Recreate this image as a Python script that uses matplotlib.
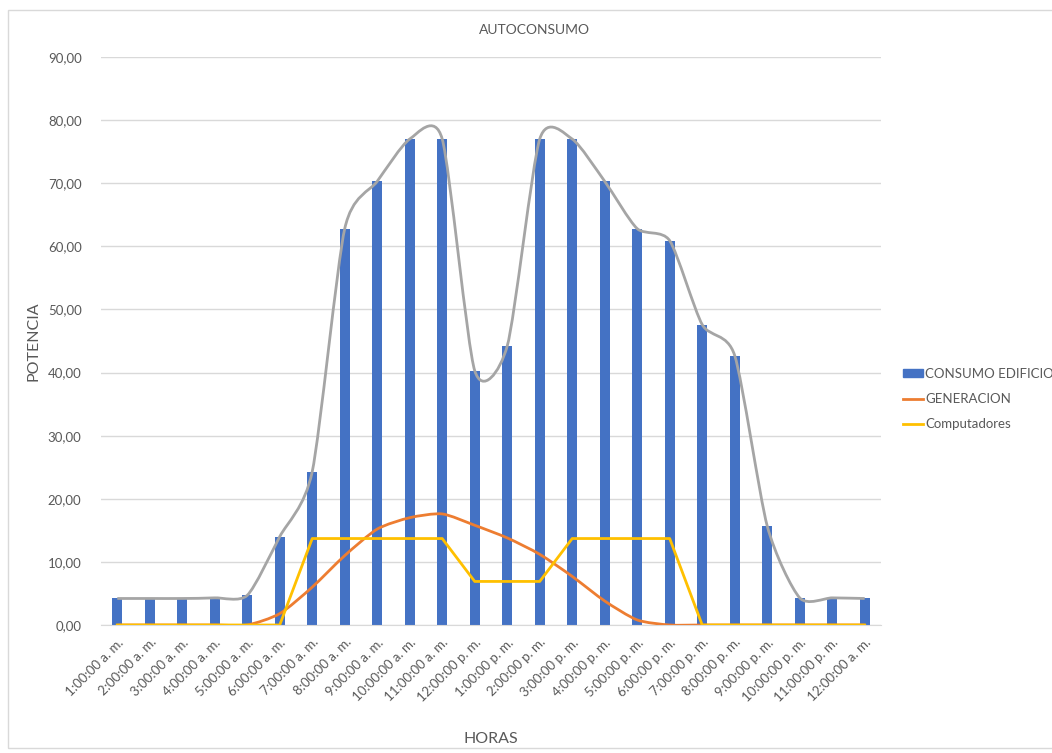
import matplotlib
matplotlib.use('Agg')
import matplotlib.pyplot as plt
import matplotlib.patches as mpatches
from matplotlib.path import Path
from matplotlib.lines import Line2D
import numpy as np

plt.rcParams['font.family'] = ['Lato', 'DejaVu Sans']

horas = ['1:00:00 a. m.', '2:00:00 a. m.', '3:00:00 a. m.', '4:00:00 a. m.',
         '5:00:00 a. m.', '6:00:00 a. m.', '7:00:00 a. m.', '8:00:00 a. m.',
         '9:00:00 a. m.', '10:00:00 a. m.', '11:00:00 a. m.', '12:00:00 p. m.',
         '1:00:00 p. m.', '2:00:00 p. m.', '3:00:00 p. m.', '4:00:00 p. m.',
         '5:00:00 p. m.', '6:00:00 p. m.', '7:00:00 p. m.', '8:00:00 p. m.',
         '9:00:00 p. m.', '10:00:00 p. m.', '11:00:00 p. m.', '12:00:00 a. m.']
consumo = [4.2, 4.2, 4.2, 4.3, 4.7, 14.0, 24.3, 62.8, 70.3, 77.0, 77.0, 40.3,
           44.2, 77.0, 77.0, 70.3, 62.8, 60.9, 47.6, 42.7, 15.7, 4.3, 4.3, 4.2]
generacion = [0, 0, 0, 0, 0, 1.8, 6.0, 11.0, 15.2, 17.0, 17.6, 15.8,
              13.8, 11.2, 7.7, 3.8, 0.8, 0, 0, 0, 0, 0, 0, 0]
computadores = [0, 0, 0, 0, 0, 0, 13.7, 13.7, 13.7, 13.7, 13.7, 6.9,
                6.9, 6.9, 13.7, 13.7, 13.7, 13.7, 0, 0, 0, 0, 0, 0]

blue = '#4472C4'
orange = '#ED7D31'
gray = '#A5A5A5'
yellow = '#FFC000'
txt = '#595959'


def smooth_path(xs, ys, k=8.5):
    # Bezier curve through the points, like Excel's smoothed line
    pts = np.column_stack([xs, ys]).astype(float)
    n = len(pts)
    verts = [pts[0]]
    codes = [Path.MOVETO]
    for i in range(n - 1):
        p0 = pts[max(i - 1, 0)]
        p1 = pts[i]
        p2 = pts[i + 1]
        p3 = pts[min(i + 2, n - 1)]
        c1 = p1 + (p2 - p0) / k
        c2 = p2 - (p3 - p1) / k
        verts += [c1, c2, p2]
        codes += [Path.CURVE4] * 3
    return Path(verts, codes)


fig = plt.figure(figsize=(10.52, 7.53), dpi=100)
ax = fig.add_axes([0.096, 0.17, 0.7414, 0.7543])

x = np.arange(len(horas))
ax.bar(x, consumo, width=0.3, color=blue, zorder=2)
ax.add_patch(mpatches.PathPatch(smooth_path(x, consumo), facecolor='none',
                                edgecolor=gray, lw=2, zorder=3))
ax.add_patch(mpatches.PathPatch(smooth_path(x, generacion), facecolor='none',
                                edgecolor=orange, lw=2, zorder=4))
ax.plot(x, computadores, color=yellow, lw=2, zorder=5)

ax.set_xlim(-0.5, len(horas) - 0.5)
ax.set_ylim(0, 90)
yt = np.arange(0, 91, 10)
ax.set_yticks(yt)
ax.set_yticklabels([('%.2f' % v).replace('.', ',') for v in yt])
ax.set_xticks(x)
ax.set_xticklabels(horas, rotation=45, ha='right', rotation_mode='anchor')
ax.tick_params(axis='both', length=0, labelsize=9.5, colors=txt)
ax.tick_params(axis='x', pad=8)
ax.tick_params(axis='y', pad=14)
ax.grid(axis='y', color='#D9D9D9', lw=1, zorder=0)
for s in ['top', 'right', 'left']:
    ax.spines[s].set_visible(False)
ax.spines['bottom'].set_color('#D9D9D9')

ax.set_ylabel('POTENCIA', fontsize=11.5, color=txt, labelpad=5)
ax.set_xlabel('HORAS', fontsize=11.5, color=txt, labelpad=20)
fig.text(0.508, 0.96, 'AUTOCONSUMO', ha='center', va='center', fontsize=10, color=txt)

handles = [mpatches.Patch(color=blue, label='CONSUMO EDIFICIO'),
           Line2D([], [], color=orange, lw=2, label='GENERACION'),
           Line2D([], [], color=yellow, lw=2, label='Computadores')]
leg = fig.legend(handles=handles, loc='center left', bbox_to_anchor=(0.847, 0.47),
                 frameon=False, fontsize=9.5, handlelength=1.5, handleheight=0.5,
                 handletextpad=0.2, labelspacing=1.0)
for t in leg.get_texts():
    t.set_color(txt)

# chart frame
fig.patches.append(mpatches.Rectangle((0.008, 0.007), 1.0, 0.98, transform=fig.transFigure,
                                      fill=False, edgecolor='#D9D9D9', lw=1))

fig.savefig('out.png', dpi=100)
